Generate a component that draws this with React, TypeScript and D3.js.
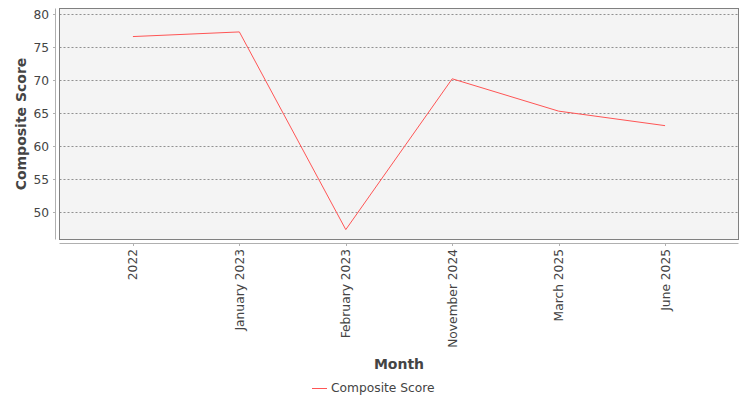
import React from "react";
import * as d3 from "d3";

const categories = ["2022", "January 2023", "February 2023", "November 2024", "March 2025", "June 2025"];
const scores = [76.65, 77.35, 47.4, 70.25, 65.35, 63.15];
const yTicks = [50, 55, 60, 65, 70, 75, 80];
const seriesName = "Composite Score";
const xTitle = "Month";
const yTitle = "Composite Score";

const W = 750, H = 400;
const plot = { left: 59.5, top: 8.5, right: 738.5, bottom: 239.5 };
const font = "'DejaVu Sans', sans-serif";
const tickFs = 12.25;

export default function App() {
  const x = d3.scalePoint<string>().domain(categories).range([plot.left, plot.right]).padding(0.69);
  const y = d3.scaleLinear().domain([45.9, 80.9]).range([plot.bottom, plot.top]);
  const line = d3.line<number>().x((_, i) => x(categories[i])!).y((d) => y(d));
  return (
    <svg width={W} height={H} style={{ position: "absolute", left: 0, top: 0, background: "#fff" }} fontFamily={font}>
      <rect x={plot.left} y={plot.top} width={plot.right - plot.left} height={plot.bottom - plot.top} fill="#f4f4f4" />
      {yTicks.map((t) => (
        <line key={t} x1={plot.left} x2={plot.right} y1={Math.round(y(t)) + 0.5} y2={Math.round(y(t)) + 0.5} stroke="#777" strokeWidth={0.8} strokeDasharray="2,2" />
      ))}
      <rect x={plot.left} y={plot.top} width={plot.right - plot.left} height={plot.bottom - plot.top} fill="none" stroke="#808080" strokeWidth={1} />
      {/* y axis */}
      <line x1={55.5} x2={55.5} y1={plot.top} y2={plot.bottom} stroke="#b0b0b0" />
      {yTicks.map((t) => (
        <g key={t}>
          <line x1={53} x2={55.5} y1={Math.round(y(t)) + 0.5} y2={Math.round(y(t)) + 0.5} stroke="#b0b0b0" />
          <text x={49} y={y(t) + 4.5} textAnchor="end" fontSize={tickFs} fill="#444">{t}</text>
        </g>
      ))}
      <text transform={`translate(25.5,${(plot.top + plot.bottom) / 2}) rotate(-90)`} textAnchor="middle" fontSize={14} fontWeight="bold" fill="#444">{yTitle}</text>
      {/* x axis */}
      <line x1={plot.left} x2={plot.right} y1={243.5} y2={243.5} stroke="#b0b0b0" />
      {categories.map((c) => (
        <g key={c}>
          <line x1={Math.round(x(c)!) + 0.5} x2={Math.round(x(c)!) + 0.5} y1={243.5} y2={246} stroke="#b0b0b0" />
          <text transform={`translate(${x(c)! + 4.5},249) rotate(-90)`} textAnchor="end" fontSize={tickFs} fill="#444">{c}</text>
        </g>
      ))}
      <text x={(plot.left + plot.right) / 2} y={369} textAnchor="middle" fontSize={14} fontWeight="bold" fill="#444">{xTitle}</text>
      <path d={line(scores)!} fill="none" stroke="#ff5555" strokeWidth={1} />
      {/* legend */}
      <line x1={312} x2={327} y1={388.5} y2={388.5} stroke="#ff5555" />
      <text x={331} y={392} fontSize={tickFs} fill="#444">{seriesName}</text>
    </svg>
  );
}
